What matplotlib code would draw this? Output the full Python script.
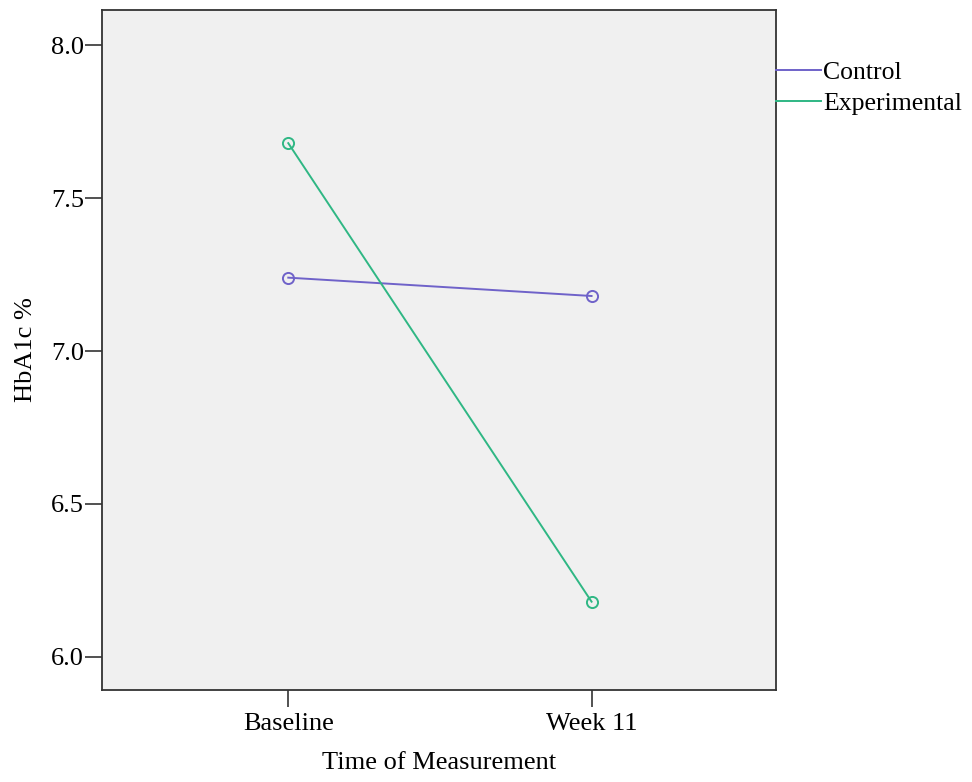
import numpy as np
import matplotlib
matplotlib.use('Agg')
import matplotlib.pyplot as plt

times = ['Baseline', 'Week 11']
control = [7.24, 7.18]
experimental = [7.68, 6.18]
y_ticks = [6.0, 6.5, 7.0, 7.5, 8.0]

plt.rcParams['font.family'] = ['Liberation Serif', 'DejaVu Serif']

fig = plt.figure(figsize=(9.72, 7.82), dpi=100)
ax = fig.add_axes([0.105, 0.118, 0.693, 0.869])
ax.set_facecolor('#f0f0f0')

x = np.arange(len(times))
ax.plot(x, control, color='#6f62c9', lw=1.4, marker='o', ms=8,
        mfc='none', mec='#6f62c9', mew=1.4, label='Control')
ax.plot(x, experimental, color='#2fb784', lw=1.4, marker='o', ms=8,
        mfc='none', mec='#2fb784', mew=1.4, label='Experimental')

ax.set_xlim(-0.614, 1.607)
ax.set_ylim(5.892, 8.115)
ax.set_xticks(x)
ax.set_xticklabels(times)
ax.set_yticks(y_ticks)
ax.set_yticklabels(['%.1f' % v for v in y_ticks])
ax.tick_params(axis='both', direction='out', length=12, width=1.2, labelsize=19,
               color='#333333', pad=1)
ax.tick_params(axis='x', pad=5)

for s in ax.spines.values():
    s.set_linewidth(1.3)
    s.set_color('#333333')

ax.set_xlabel('Time of Measurement', fontsize=19, labelpad=12)
ax.set_ylabel('HbA1c %', fontsize=19, labelpad=10)

ax.legend(loc='upper left', bbox_to_anchor=(1.0, 0.925), frameon=False,
          fontsize=18.5, handlelength=1.75, handletextpad=0.1, borderaxespad=0,
          labelspacing=0.3, borderpad=0)
leg = ax.get_legend()
for h in leg.legend_handles:
    h.set_marker('')

fig.savefig('out.png', dpi=100)
